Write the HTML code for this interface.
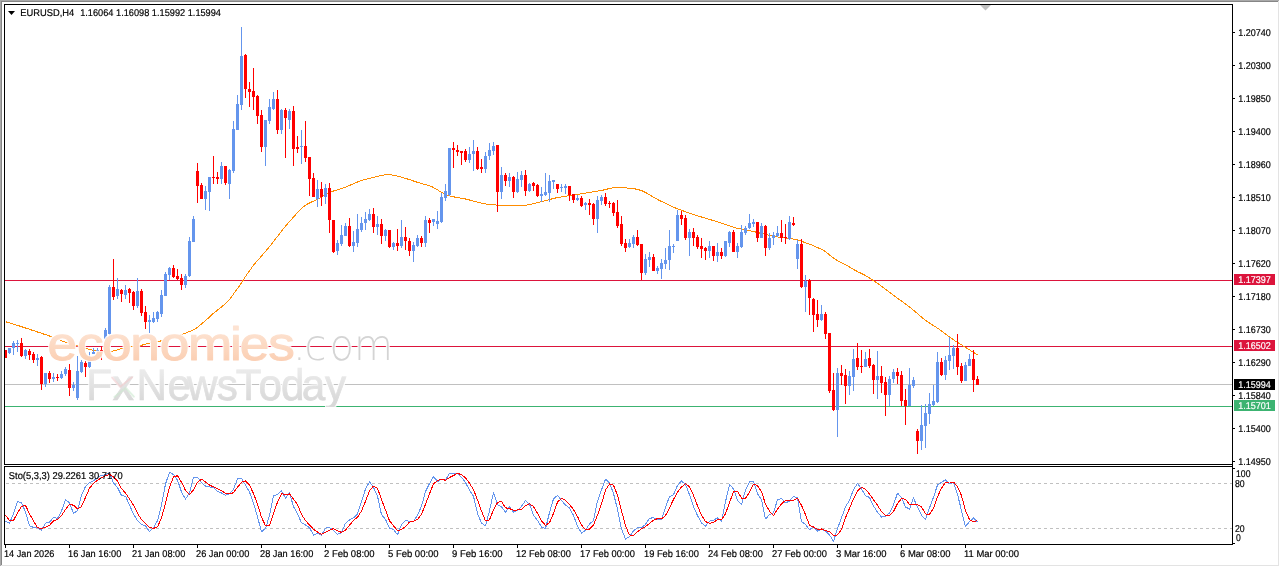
<!DOCTYPE html><html><head><meta charset="utf-8"><title>EURUSD,H4</title>
<style>html,body{margin:0;padding:0;background:#fff;overflow:hidden}svg{display:block}text{font-family:"Liberation Sans",sans-serif;text-rendering:geometricPrecision}</style></head><body>
<svg width="1280" height="567" viewBox="0 0 1280 567">
<rect width="1280" height="567" fill="#fff"/>
<g shape-rendering="crispEdges">
<rect x="0" y="0" width="1279" height="1" fill="#a9a9a9"/><rect x="0" y="0" width="1" height="566" fill="#a9a9a9"/>
<rect x="1" y="1" width="1277" height="1" fill="#868686"/><rect x="1" y="1" width="1" height="564" fill="#868686"/>
<rect x="1278" y="1" width="1" height="565" fill="#e3e3e3"/><rect x="1" y="565" width="1278" height="1" fill="#e3e3e3"/>
</g>
<g shape-rendering="crispEdges">
<rect x="5" y="280" width="1227" height="1" fill="#DC143C"/>
<rect x="5" y="346" width="1227" height="1" fill="#DC143C"/>
<rect x="5" y="384" width="1227" height="1" fill="#C0C0C0"/>
<rect x="5" y="406" width="1227" height="1" fill="#3CB371"/>
</g>
<polyline points="5.5,321.7 7.5,322.3 9.5,322.9 11.5,323.6 13.5,324.2 15.5,324.8 17.5,325.4 19.5,326.0 21.5,326.7 23.5,327.3 25.5,328.0 27.5,328.6 29.5,329.3 31.5,330.0 33.5,330.6 35.5,331.3 37.5,332.0 39.5,332.6 41.5,333.3 43.5,334.0 45.5,334.6 47.5,335.3 49.5,336.0 51.5,336.7 53.5,337.4 55.5,338.2 57.5,339.0 59.5,339.8 61.5,340.7 63.5,341.4 65.5,342.2 67.5,342.8 69.5,343.4 71.5,344.1 73.5,344.7 75.5,345.3 77.5,345.9 79.5,346.5 81.5,347.2 83.5,347.7 85.5,348.3 87.5,348.8 89.5,349.3 91.5,349.8 93.5,350.3 95.5,350.7 97.5,351.0 99.5,351.3 101.5,351.6 103.5,351.8 105.5,351.8 107.5,351.8 109.5,351.6 111.5,351.3 113.5,350.9 115.5,350.4 117.5,349.8 119.5,349.2 121.5,348.6 123.5,348.1 125.5,347.6 127.5,347.2 129.5,346.9 131.5,346.7 133.5,346.4 135.5,346.1 137.5,345.8 139.5,345.5 141.5,345.2 143.5,344.8 145.5,344.2 147.5,343.6 149.5,343.1 151.5,342.6 153.5,342.2 155.5,341.9 157.5,341.5 159.5,341.2 161.5,340.8 163.5,340.2 165.5,339.6 167.5,339.0 169.5,338.3 171.5,337.7 173.5,337.1 175.5,336.4 177.5,335.8 179.5,335.1 181.5,334.5 183.5,333.8 185.5,333.1 187.5,332.3 189.5,331.5 191.5,330.7 193.5,329.7 195.5,328.6 197.5,327.2 199.5,325.6 201.5,324.0 203.5,322.3 205.5,320.6 207.5,318.8 209.5,316.9 211.5,315.0 213.5,313.3 215.5,311.7 217.5,310.1 219.5,308.5 221.5,306.9 223.5,305.2 225.5,303.4 227.5,301.6 229.5,299.4 231.5,296.8 233.5,294.0 235.5,291.1 237.5,288.4 239.5,285.7 241.5,282.9 243.5,279.7 245.5,276.5 247.5,273.6 249.5,270.8 251.5,268.0 253.5,265.3 255.5,262.8 257.5,260.5 259.5,258.3 261.5,256.0 263.5,253.7 265.5,251.4 267.5,249.0 269.5,246.6 271.5,244.2 273.5,241.6 275.5,239.0 277.5,236.4 279.5,233.7 281.5,231.1 283.5,228.7 285.5,226.3 287.5,223.9 289.5,221.6 291.5,219.4 293.5,217.1 295.5,214.8 297.5,212.6 299.5,210.5 301.5,208.5 303.5,206.7 305.5,205.2 307.5,204.0 309.5,203.0 311.5,202.0 313.5,201.1 315.5,200.2 317.5,199.2 319.5,198.1 321.5,197.0 323.5,195.9 325.5,194.7 327.5,193.6 329.5,192.6 331.5,191.7 333.5,191.0 335.5,190.4 337.5,189.8 339.5,189.2 341.5,188.6 343.5,187.9 345.5,187.2 347.5,186.4 349.5,185.5 351.5,184.6 353.5,183.8 355.5,182.9 357.5,182.0 359.5,181.2 361.5,180.5 363.5,179.9 365.5,179.4 367.5,178.9 369.5,178.4 371.5,177.9 373.5,177.4 375.5,176.9 377.5,176.4 379.5,175.9 381.5,175.4 383.5,175.1 385.5,174.9 387.5,174.8 389.5,174.8 391.5,174.9 393.5,175.2 395.5,175.6 397.5,176.2 399.5,176.7 401.5,177.2 403.5,177.8 405.5,178.4 407.5,179.0 409.5,179.6 411.5,180.3 413.5,181.0 415.5,181.7 417.5,182.3 419.5,182.9 421.5,183.5 423.5,184.1 425.5,184.6 427.5,185.2 429.5,185.8 431.5,186.5 433.5,187.5 435.5,188.7 437.5,189.9 439.5,191.2 441.5,192.3 443.5,193.4 445.5,194.3 447.5,195.2 449.5,195.9 451.5,196.4 453.5,196.8 455.5,197.2 457.5,197.5 459.5,197.9 461.5,198.2 463.5,198.6 465.5,199.0 467.5,199.5 469.5,200.0 471.5,200.5 473.5,201.1 475.5,201.6 477.5,202.1 479.5,202.7 481.5,203.2 483.5,203.6 485.5,204.0 487.5,204.2 489.5,204.4 491.5,204.6 493.5,204.8 495.5,205.0 497.5,205.2 499.5,205.4 501.5,205.5 503.5,205.6 505.5,205.5 507.5,205.5 509.5,205.5 511.5,205.5 513.5,205.5 515.5,205.4 517.5,205.4 519.5,205.4 521.5,205.4 523.5,205.3 525.5,205.2 527.5,205.0 529.5,204.6 531.5,204.1 533.5,203.6 535.5,203.1 537.5,202.6 539.5,202.1 541.5,201.6 543.5,201.1 545.5,200.6 547.5,200.1 549.5,199.6 551.5,199.0 553.5,198.5 555.5,198.0 557.5,197.6 559.5,197.2 561.5,196.9 563.5,196.6 565.5,196.2 567.5,195.9 569.5,195.6 571.5,195.3 573.5,195.0 575.5,194.7 577.5,194.4 579.5,194.1 581.5,193.8 583.5,193.5 585.5,193.1 587.5,192.8 589.5,192.4 591.5,192.1 593.5,191.8 595.5,191.4 597.5,191.1 599.5,190.7 601.5,190.4 603.5,190.0 605.5,189.5 607.5,189.0 609.5,188.5 611.5,188.1 613.5,187.9 615.5,187.8 617.5,187.8 619.5,187.8 621.5,187.8 623.5,187.8 625.5,187.9 627.5,188.1 629.5,188.3 631.5,188.5 633.5,188.7 635.5,189.0 637.5,189.4 639.5,190.0 641.5,190.6 643.5,191.5 645.5,192.5 647.5,193.6 649.5,194.8 651.5,196.0 653.5,197.2 655.5,198.3 657.5,199.5 659.5,200.5 661.5,201.5 663.5,202.4 665.5,203.4 667.5,204.3 669.5,205.2 671.5,206.2 673.5,207.1 675.5,208.0 677.5,208.8 679.5,209.6 681.5,210.3 683.5,211.0 685.5,211.7 687.5,212.4 689.5,213.1 691.5,213.8 693.5,214.5 695.5,215.2 697.5,215.8 699.5,216.4 701.5,217.0 703.5,217.6 705.5,218.2 707.5,218.8 709.5,219.4 711.5,220.0 713.5,220.6 715.5,221.2 717.5,221.9 719.5,222.5 721.5,223.2 723.5,223.9 725.5,224.5 727.5,225.2 729.5,225.9 731.5,226.6 733.5,227.2 735.5,227.8 737.5,228.3 739.5,228.7 741.5,229.1 743.5,229.5 745.5,229.9 747.5,230.3 749.5,230.7 751.5,231.2 753.5,231.6 755.5,232.0 757.5,232.5 759.5,233.0 761.5,233.5 763.5,233.9 765.5,234.4 767.5,234.9 769.5,235.4 771.5,235.8 773.5,236.3 775.5,236.6 777.5,236.9 779.5,237.2 781.5,237.5 783.5,237.7 785.5,238.0 787.5,238.3 789.5,238.5 791.5,238.8 793.5,239.1 795.5,239.5 797.5,240.0 799.5,240.6 801.5,241.3 803.5,242.0 805.5,242.7 807.5,243.4 809.5,244.1 811.5,244.9 813.5,245.8 815.5,246.7 817.5,247.6 819.5,248.5 821.5,249.4 823.5,250.4 825.5,251.7 827.5,253.3 829.5,255.0 831.5,256.6 833.5,258.1 835.5,259.4 837.5,260.6 839.5,261.6 841.5,262.7 843.5,263.7 845.5,264.7 847.5,265.8 849.5,267.0 851.5,268.2 853.5,269.4 855.5,270.5 857.5,271.6 859.5,272.6 861.5,273.5 863.5,274.5 865.5,275.6 867.5,276.7 869.5,278.0 871.5,279.3 873.5,280.6 875.5,282.0 877.5,283.4 879.5,284.8 881.5,286.3 883.5,287.8 885.5,289.3 887.5,290.8 889.5,292.3 891.5,293.8 893.5,295.3 895.5,296.7 897.5,298.2 899.5,299.7 901.5,301.1 903.5,302.6 905.5,304.1 907.5,305.5 909.5,307.0 911.5,308.5 913.5,310.2 915.5,311.9 917.5,313.6 919.5,315.3 921.5,317.1 923.5,318.7 925.5,320.3 927.5,321.7 929.5,323.0 931.5,324.3 933.5,325.6 935.5,326.8 937.5,328.1 939.5,329.4 941.5,330.9 943.5,332.4 945.5,334.0 947.5,335.5 949.5,337.0 951.5,338.4 953.5,339.8 955.5,341.1 957.5,342.3 959.5,343.6 961.5,344.9 963.5,346.2 965.5,347.4 967.5,348.7 969.5,349.9 971.5,351.2 973.5,352.4 975.5,353.7 977.5,354.9" fill="none" stroke="#FF8C00" stroke-width="1" stroke-linejoin="round" shape-rendering="crispEdges"/>
<g shape-rendering="crispEdges"><path d="M9 348h1V354h-1zM8 348h3V353h-3zM13 341h1V355h-1zM12 343h3V348h-3zM17 340h1V352h-1zM16 343h3V344h-3zM25 349h1V359h-1zM24 350h3V356h-3zM37 354h1V366h-1zM36 358h3V360h-3zM45 373h1V387h-1zM44 373h3V384h-3zM53 373h1V382h-1zM52 377h3V379h-3zM61 371h1V379h-1zM60 374h3V378h-3zM65 367h1V376h-1zM64 369h3V374h-3zM73 382h1V391h-1zM72 385h3V388h-3zM77 356h1V400h-1zM76 371h3V398h-3zM81 360h1V373h-1zM80 362h3V372h-3zM89 352h1V368h-1zM88 361h3V367h-3zM93 348h1V354h-1zM92 352h3V354h-3zM97 348h1V352h-1zM96 350h3V351h-3zM105 328h1V341h-1zM104 330h3V339h-3zM109 285h1V336h-1zM108 287h3V334h-3zM117 278h1V299h-1zM116 289h3V296h-3zM125 285h1V299h-1zM124 290h3V295h-3zM137 278h1V308h-1zM136 291h3V306h-3zM149 315h1V333h-1zM148 320h3V322h-3zM153 312h1V323h-1zM152 318h3V322h-3zM157 311h1V322h-1zM156 312h3V319h-3zM161 290h1V317h-1zM160 295h3V314h-3zM165 272h1V296h-1zM164 274h3V296h-3zM169 267h1V280h-1zM168 268h3V275h-3zM185 274h1V288h-1zM184 276h3V285h-3zM189 237h1V277h-1zM188 241h3V276h-3zM193 216h1V242h-1zM192 219h3V242h-3zM205 186h1V210h-1zM204 191h3V199h-3zM209 177h1V211h-1zM208 177h3V192h-3zM221 162h1V184h-1zM220 166h3V179h-3zM229 169h1V199h-1zM228 170h3V184h-3zM233 121h1V173h-1zM232 129h3V171h-3zM237 95h1V130h-1zM236 104h3V130h-3zM241 27h1V110h-1zM240 56h3V105h-3zM265 120h1V166h-1zM264 120h3V147h-3zM269 99h1V124h-1zM268 107h3V121h-3zM273 92h1V110h-1zM272 99h3V109h-3zM281 109h1V134h-1zM280 110h3V130h-3zM289 109h1V129h-1zM288 111h3V120h-3zM301 130h1V164h-1zM300 146h3V147h-3zM317 180h1V207h-1zM316 189h3V199h-3zM325 184h1V204h-1zM324 188h3V197h-3zM337 240h1V255h-1zM336 243h3V251h-3zM341 225h1V246h-1zM340 235h3V244h-3zM345 223h1V236h-1zM344 226h3V236h-3zM353 231h1V252h-1zM352 242h3V246h-3zM357 214h1V247h-1zM356 229h3V243h-3zM361 217h1V232h-1zM360 223h3V230h-3zM365 212h1V230h-1zM364 219h3V223h-3zM369 209h1V221h-1zM368 214h3V220h-3zM377 216h1V235h-1zM376 224h3V227h-3zM385 229h1V241h-1zM384 230h3V236h-3zM393 242h1V250h-1zM392 243h3V247h-3zM401 220h1V248h-1zM400 237h3V246h-3zM413 242h1V262h-1zM412 245h3V251h-3zM417 235h1V247h-1zM416 238h3V246h-3zM425 216h1V247h-1zM424 220h3V243h-3zM433 219h1V226h-1zM432 219h3V222h-3zM437 211h1V229h-1zM436 221h3V224h-3zM441 193h1V223h-1zM440 197h3V222h-3zM445 184h1V201h-1zM444 191h3V198h-3zM449 148h1V196h-1zM448 148h3V195h-3zM469 147h1V163h-1zM468 154h3V160h-3zM473 140h1V171h-1zM472 151h3V154h-3zM485 152h1V173h-1zM484 156h3V169h-3zM489 143h1V160h-1zM488 150h3V156h-3zM493 142h1V155h-1zM492 146h3V151h-3zM501 167h1V199h-1zM500 175h3V192h-3zM509 173h1V187h-1zM508 177h3V181h-3zM517 172h1V193h-1zM516 179h3V192h-3zM521 171h1V187h-1zM520 175h3V180h-3zM529 183h1V192h-1zM528 184h3V191h-3zM541 187h1V202h-1zM540 194h3V196h-3zM545 173h1V196h-1zM544 192h3V195h-3zM549 175h1V202h-1zM548 181h3V193h-3zM553 180h1V189h-1zM552 180h3V182h-3zM561 184h1V192h-1zM560 187h3V188h-3zM565 184h1V194h-1zM564 186h3V188h-3zM577 195h1V201h-1zM576 198h3V200h-3zM585 202h1V210h-1zM584 203h3V205h-3zM597 196h1V233h-1zM596 200h3V219h-3zM601 195h1V205h-1zM600 197h3V201h-3zM629 239h1V248h-1zM628 243h3V247h-3zM633 235h1V248h-1zM632 237h3V244h-3zM645 254h1V275h-1zM644 259h3V273h-3zM649 252h1V267h-1zM648 257h3V260h-3zM657 266h1V274h-1zM656 268h3V271h-3zM661 259h1V279h-1zM660 263h3V269h-3zM665 248h1V269h-1zM664 260h3V264h-3zM669 230h1V270h-1zM668 246h3V260h-3zM673 244h1V253h-1zM672 246h3V247h-3zM677 210h1V241h-1zM676 215h3V241h-3zM689 229h1V256h-1zM688 232h3V238h-3zM709 241h1V258h-1zM708 246h3V251h-3zM717 243h1V262h-1zM716 252h3V256h-3zM725 241h1V257h-1zM724 241h3V256h-3zM729 231h1V247h-1zM728 232h3V243h-3zM737 243h1V258h-1zM736 246h3V252h-3zM741 225h1V248h-1zM740 232h3V247h-3zM745 226h1V235h-1zM744 228h3V233h-3zM749 214h1V229h-1zM748 223h3V228h-3zM753 219h1V227h-1zM752 222h3V224h-3zM761 223h1V238h-1zM760 226h3V238h-3zM769 233h1V250h-1zM768 238h3V248h-3zM773 232h1V245h-1zM772 235h3V238h-3zM777 226h1V237h-1zM776 233h3V236h-3zM789 216h1V240h-1zM788 222h3V239h-3zM797 240h1V269h-1zM796 244h3V259h-3zM805 275h1V312h-1zM804 281h3V287h-3zM821 305h1V321h-1zM820 314h3V320h-3zM837 368h1V437h-1zM836 373h3V410h-3zM849 371h1V395h-1zM848 376h3V386h-3zM853 349h1V391h-1zM852 359h3V377h-3zM865 352h1V367h-1zM864 359h3V367h-3zM877 351h1V399h-1zM876 376h3V380h-3zM889 376h1V406h-1zM888 379h3V395h-3zM893 369h1V383h-1zM892 372h3V379h-3zM909 368h1V406h-1zM908 385h3V406h-3zM913 377h1V388h-1zM912 380h3V386h-3zM921 405h1V450h-1zM920 425h3V441h-3zM925 404h1V448h-1zM924 413h3V426h-3zM929 393h1V424h-1zM928 404h3V414h-3zM933 385h1V406h-1zM932 401h3V405h-3zM937 352h1V403h-1zM936 362h3V402h-3zM945 356h1V380h-1zM944 360h3V375h-3zM949 337h1V370h-1zM948 355h3V361h-3zM953 345h1V369h-1zM952 348h3V356h-3zM965 362h1V381h-1zM964 365h3V381h-3zM969 354h1V366h-1zM968 359h3V366h-3z" fill="#6495ED"/><path d="M5 350h1V358h-1zM5 350h2V358h-2zM21 338h1V357h-1zM20 343h3V356h-3zM29 349h1V360h-1zM28 351h3V355h-3zM33 352h1V363h-1zM32 354h3V360h-3zM41 356h1V390h-1zM40 357h3V384h-3zM49 371h1V383h-1zM48 373h3V379h-3zM57 374h1V381h-1zM56 377h3V378h-3zM69 364h1V396h-1zM68 370h3V388h-3zM85 361h1V377h-1zM84 363h3V367h-3zM101 347h1V360h-1zM100 350h3V352h-3zM113 259h1V300h-1zM112 287h3V297h-3zM121 289h1V302h-1zM120 290h3V294h-3zM129 288h1V303h-1zM128 289h3V293h-3zM133 291h1V310h-1zM132 292h3V306h-3zM141 289h1V316h-1zM140 291h3V313h-3zM145 306h1V329h-1zM144 312h3V322h-3zM173 265h1V278h-1zM172 268h3V277h-3zM177 269h1V280h-1zM176 276h3V279h-3zM181 274h1V290h-1zM180 278h3V285h-3zM197 163h1V203h-1zM196 171h3V186h-3zM201 183h1V199h-1zM200 185h3V199h-3zM213 156h1V184h-1zM212 177h3V178h-3zM217 172h1V184h-1zM216 177h3V179h-3zM225 166h1V185h-1zM224 166h3V183h-3zM245 54h1V98h-1zM244 55h3V89h-3zM249 82h1V107h-1zM248 89h3V92h-3zM253 68h1V110h-1zM252 91h3V97h-3zM257 95h1V124h-1zM256 96h3V116h-3zM261 110h1V152h-1zM260 115h3V147h-3zM277 90h1V134h-1zM276 99h3V130h-3zM285 108h1V158h-1zM284 110h3V118h-3zM293 106h1V166h-1zM292 111h3V149h-3zM297 136h1V153h-1zM296 147h3V149h-3zM305 121h1V162h-1zM304 146h3V158h-3zM309 157h1V196h-1zM308 157h3V179h-3zM313 173h1V197h-1zM312 178h3V197h-3zM321 182h1V206h-1zM320 189h3V197h-3zM329 183h1V233h-1zM328 188h3V220h-3zM333 220h1V253h-1zM332 220h3V252h-3zM349 218h1V247h-1zM348 226h3V246h-3zM373 208h1V233h-1zM372 214h3V227h-3zM381 219h1V244h-1zM380 224h3V236h-3zM389 230h1V248h-1zM388 230h3V247h-3zM397 229h1V251h-1zM396 243h3V246h-3zM405 227h1V250h-1zM404 237h3V241h-3zM409 238h1V256h-1zM408 241h3V251h-3zM421 236h1V247h-1zM420 238h3V243h-3zM429 218h1V233h-1zM428 220h3V223h-3zM453 142h1V168h-1zM452 148h3V150h-3zM457 145h1V156h-1zM456 150h3V152h-3zM461 151h1V165h-1zM460 151h3V153h-3zM465 149h1V162h-1zM464 151h3V160h-3zM477 147h1V170h-1zM476 151h3V169h-3zM481 159h1V173h-1zM480 167h3V169h-3zM497 145h1V212h-1zM496 145h3V192h-3zM505 173h1V186h-1zM504 175h3V181h-3zM513 176h1V198h-1zM512 177h3V192h-3zM525 170h1V196h-1zM524 175h3V191h-3zM533 182h1V191h-1zM532 183h3V186h-3zM537 184h1V197h-1zM536 185h3V196h-3zM557 184h1V193h-1zM556 184h3V189h-3zM569 186h1V201h-1zM568 186h3V195h-3zM573 194h1V203h-1zM572 194h3V200h-3zM581 196h1V207h-1zM580 198h3V206h-3zM589 199h1V215h-1zM588 203h3V205h-3zM593 203h1V225h-1zM592 204h3V219h-3zM605 193h1V206h-1zM604 197h3V204h-3zM609 201h1V208h-1zM608 203h3V204h-3zM613 202h1V216h-1zM612 203h3V213h-3zM617 200h1V228h-1zM616 212h3V226h-3zM621 216h1V246h-1zM620 224h3V244h-3zM625 239h1V252h-1zM624 243h3V248h-3zM637 230h1V246h-1zM636 237h3V245h-3zM641 244h1V280h-1zM640 244h3V273h-3zM653 254h1V271h-1zM652 257h3V271h-3zM681 211h1V225h-1zM680 215h3V219h-3zM685 215h1V240h-1zM684 218h3V238h-3zM693 228h1V246h-1zM692 232h3V238h-3zM697 235h1V249h-1zM696 237h3V247h-3zM701 238h1V258h-1zM700 246h3V249h-3zM705 247h1V260h-1zM704 248h3V251h-3zM713 246h1V261h-1zM712 246h3V256h-3zM721 248h1V259h-1zM720 252h3V256h-3zM733 230h1V252h-1zM732 232h3V252h-3zM757 222h1V242h-1zM756 222h3V238h-3zM765 225h1V256h-1zM764 226h3V248h-3zM781 220h1V242h-1zM780 233h3V238h-3zM785 224h1V244h-1zM784 237h3V238h-3zM793 217h1V226h-1zM792 223h3V225h-3zM801 239h1V288h-1zM800 244h3V287h-3zM809 279h1V315h-1zM808 280h3V298h-3zM813 298h1V332h-1zM812 299h3V315h-3zM817 300h1V327h-1zM816 314h3V320h-3zM825 312h1V339h-1zM824 314h3V334h-3zM829 333h1V393h-1zM828 333h3V391h-3zM833 373h1V411h-1zM832 390h3V410h-3zM841 365h1V385h-1zM840 373h3V376h-3zM845 369h1V404h-1zM844 375h3V386h-3zM857 343h1V370h-1zM856 358h3V367h-3zM861 350h1V373h-1zM860 366h3V367h-3zM869 349h1V368h-1zM868 358h3V366h-3zM873 364h1V394h-1zM872 365h3V380h-3zM881 366h1V393h-1zM880 376h3V383h-3zM885 377h1V416h-1zM884 382h3V395h-3zM897 368h1V384h-1zM896 372h3V376h-3zM901 371h1V406h-1zM900 375h3V401h-3zM905 389h1V425h-1zM904 400h3V406h-3zM917 429h1V454h-1zM916 431h3V441h-3zM941 358h1V376h-1zM940 362h3V375h-3zM957 334h1V375h-1zM956 348h3V367h-3zM961 363h1V383h-1zM960 366h3V381h-3zM973 350h1V392h-1zM972 359h3V380h-3zM977 376h1V385h-1zM976 379h3V385h-3z" fill="#FF0000"/></g>
<g shape-rendering="crispEdges">
<line x1="6" y1="483.5" x2="1232" y2="483.5" stroke="#C0C0C0" stroke-width="1" stroke-dasharray="3,3"/>
<line x1="6" y1="528.5" x2="1232" y2="528.5" stroke="#C0C0C0" stroke-width="1" stroke-dasharray="3,3"/>
</g>
<polyline points="5.5,521.3 9.5,523.1 13.5,513.8 17.5,501.5 21.5,502.8 25.5,512.0 29.5,525.7 33.5,527.5 37.5,527.9 41.5,530.3 45.5,523.2 49.5,522.3 53.5,517.4 57.5,518.5 61.5,511.0 65.5,499.5 69.5,502.9 73.5,513.3 77.5,510.6 81.5,495.4 85.5,486.5 89.5,482.6 93.5,480.7 97.5,477.4 101.5,475.4 105.5,474.8 109.5,472.7 113.5,482.9 117.5,487.4 121.5,495.5 125.5,496.2 129.5,505.2 133.5,514.0 137.5,520.6 141.5,524.6 145.5,525.7 149.5,531.8 153.5,527.8 157.5,520.7 161.5,505.2 165.5,484.0 169.5,472.3 173.5,474.6 177.5,480.1 181.5,492.0 185.5,499.2 189.5,492.6 193.5,477.6 197.5,477.2 201.5,482.4 205.5,486.1 209.5,486.8 213.5,487.8 217.5,491.5 221.5,493.0 225.5,495.4 229.5,493.5 233.5,489.3 237.5,479.0 241.5,478.3 245.5,485.2 249.5,492.2 253.5,503.3 257.5,516.8 261.5,531.8 265.5,528.5 269.5,515.7 273.5,496.0 277.5,494.5 281.5,490.7 285.5,498.2 289.5,492.9 293.5,506.5 297.5,513.6 301.5,522.9 305.5,524.9 309.5,527.6 313.5,535.1 317.5,533.3 321.5,535.2 325.5,528.1 329.5,527.6 333.5,530.2 337.5,534.3 341.5,532.7 345.5,523.2 349.5,519.9 353.5,517.8 357.5,513.9 361.5,501.2 365.5,489.1 369.5,481.8 373.5,487.4 377.5,496.1 381.5,514.7 385.5,519.3 389.5,528.4 393.5,529.5 397.5,534.8 401.5,524.4 405.5,520.4 409.5,521.4 413.5,521.6 417.5,515.3 421.5,506.0 425.5,491.6 429.5,483.6 433.5,476.6 437.5,481.5 441.5,479.3 445.5,480.1 449.5,473.1 453.5,473.4 457.5,473.4 461.5,477.2 465.5,482.6 469.5,490.0 473.5,496.3 477.5,513.5 481.5,523.1 485.5,525.9 489.5,510.7 493.5,492.4 497.5,504.6 501.5,506.9 505.5,512.0 509.5,506.9 513.5,512.2 517.5,510.5 521.5,506.3 525.5,500.6 529.5,504.1 533.5,515.0 537.5,520.4 541.5,527.0 545.5,528.5 549.5,512.5 553.5,498.9 557.5,495.3 561.5,500.6 565.5,505.1 569.5,508.0 573.5,515.4 577.5,526.1 581.5,533.2 585.5,530.4 589.5,523.9 593.5,520.6 597.5,501.1 601.5,489.8 605.5,479.2 609.5,482.8 613.5,493.5 617.5,509.3 621.5,529.1 625.5,539.1 629.5,536.7 633.5,530.8 637.5,527.6 641.5,527.9 645.5,524.3 649.5,518.5 653.5,517.5 657.5,519.8 661.5,519.6 665.5,507.2 669.5,496.6 673.5,494.7 677.5,485.4 681.5,480.9 685.5,484.6 689.5,494.7 693.5,506.8 697.5,515.5 701.5,522.9 705.5,526.2 709.5,521.1 713.5,520.2 717.5,517.9 721.5,521.4 725.5,501.8 729.5,484.6 733.5,488.9 737.5,500.5 741.5,504.8 745.5,489.7 749.5,481.8 753.5,481.2 757.5,493.7 761.5,499.8 765.5,519.0 769.5,514.7 773.5,512.8 777.5,499.7 781.5,498.5 785.5,502.9 789.5,501.1 793.5,496.2 797.5,497.9 801.5,521.5 805.5,524.6 809.5,529.8 813.5,526.6 817.5,531.2 821.5,529.1 825.5,531.2 829.5,534.9 833.5,541.2 837.5,528.7 841.5,517.8 845.5,506.8 849.5,500.2 853.5,489.5 857.5,483.6 861.5,488.8 865.5,495.7 869.5,497.5 873.5,506.0 877.5,512.2 881.5,517.1 885.5,516.5 889.5,512.9 893.5,504.8 897.5,493.1 901.5,497.6 905.5,507.0 909.5,509.1 913.5,498.0 917.5,507.0 921.5,515.3 925.5,519.7 929.5,507.8 933.5,497.3 937.5,485.0 941.5,482.3 945.5,479.9 949.5,483.9 953.5,482.1 957.5,494.2 961.5,510.7 965.5,526.5 969.5,521.6 973.5,518.0 977.5,521.9" fill="none" stroke="#6495ED" stroke-width="1" stroke-linejoin="round" shape-rendering="crispEdges"/>
<polyline points="5.5,515.1 9.5,520.4 13.5,520.4 17.5,512.9 21.5,506.3 25.5,505.4 29.5,513.8 33.5,520.9 37.5,527.5 41.5,528.8 45.5,527.1 49.5,525.3 53.5,521.0 57.5,519.4 61.5,515.6 65.5,509.6 69.5,504.4 73.5,505.2 77.5,509.0 81.5,506.5 85.5,497.5 89.5,488.2 93.5,483.3 97.5,480.3 101.5,477.9 105.5,475.9 109.5,474.3 113.5,476.8 117.5,481.0 121.5,488.6 125.5,493.0 129.5,499.0 133.5,505.2 137.5,513.3 141.5,519.7 145.5,523.6 149.5,527.4 153.5,528.4 157.5,526.8 161.5,517.9 165.5,503.3 169.5,487.2 173.5,477.0 177.5,475.7 181.5,482.3 185.5,490.4 189.5,494.6 193.5,489.8 197.5,482.4 201.5,479.1 205.5,481.9 209.5,485.1 213.5,486.9 217.5,488.7 221.5,490.8 225.5,493.3 229.5,494.0 233.5,492.7 237.5,487.3 241.5,482.2 245.5,480.8 249.5,485.2 253.5,493.6 257.5,504.1 261.5,517.3 265.5,525.7 269.5,525.3 273.5,513.4 277.5,502.1 281.5,493.7 285.5,494.5 289.5,493.9 293.5,499.2 297.5,504.4 301.5,514.4 305.5,520.5 309.5,525.1 313.5,529.2 317.5,532.0 321.5,534.5 325.5,532.2 329.5,530.3 333.5,528.6 337.5,530.7 341.5,532.4 345.5,530.0 349.5,525.3 353.5,520.3 357.5,517.2 361.5,511.0 365.5,501.4 369.5,490.7 373.5,486.1 377.5,488.4 381.5,499.4 385.5,510.0 389.5,520.8 393.5,525.7 397.5,530.9 401.5,529.5 405.5,526.5 409.5,522.1 413.5,521.1 417.5,519.4 421.5,514.3 425.5,504.3 429.5,493.7 433.5,484.0 437.5,480.6 441.5,479.1 445.5,480.3 449.5,477.5 453.5,475.5 457.5,473.3 461.5,474.7 465.5,477.7 469.5,483.3 473.5,489.6 477.5,499.9 481.5,511.0 485.5,520.9 489.5,519.9 493.5,509.7 497.5,502.6 501.5,501.3 505.5,507.8 509.5,508.6 513.5,510.4 517.5,509.9 521.5,509.7 525.5,505.8 529.5,503.7 533.5,506.6 537.5,513.2 541.5,520.8 545.5,525.3 549.5,522.7 553.5,513.3 557.5,502.2 561.5,498.3 565.5,500.3 569.5,504.6 573.5,509.5 577.5,516.5 581.5,524.9 585.5,529.9 589.5,529.1 593.5,525.0 597.5,515.2 601.5,503.9 605.5,490.1 609.5,484.0 613.5,485.2 617.5,495.2 621.5,510.6 625.5,525.9 629.5,535.0 633.5,535.5 637.5,531.7 641.5,528.8 645.5,526.6 649.5,523.6 653.5,520.1 657.5,518.6 661.5,519.0 665.5,515.6 669.5,507.8 673.5,499.5 677.5,492.2 681.5,487.0 685.5,483.7 689.5,486.8 693.5,495.4 697.5,505.7 701.5,515.1 705.5,521.5 709.5,523.4 713.5,522.5 717.5,519.7 721.5,519.8 725.5,513.7 729.5,502.6 733.5,491.8 737.5,491.3 741.5,498.1 745.5,498.3 749.5,492.1 753.5,484.2 757.5,485.6 761.5,491.6 765.5,504.2 769.5,511.2 773.5,515.5 777.5,509.1 781.5,503.7 785.5,500.4 789.5,500.8 793.5,500.1 797.5,498.4 801.5,505.2 805.5,514.7 809.5,525.3 813.5,527.0 817.5,529.2 821.5,529.0 825.5,530.5 829.5,531.7 833.5,535.8 837.5,534.9 841.5,529.3 845.5,517.8 849.5,508.3 853.5,498.8 857.5,491.1 861.5,487.3 865.5,489.4 869.5,494.0 873.5,499.7 877.5,505.2 881.5,511.8 885.5,515.3 889.5,515.5 893.5,511.4 897.5,503.6 901.5,498.5 905.5,499.2 909.5,504.5 913.5,504.7 917.5,504.7 921.5,506.7 925.5,514.0 929.5,514.3 933.5,508.3 937.5,496.7 941.5,488.2 945.5,482.4 949.5,482.0 953.5,482.0 957.5,486.7 961.5,495.7 965.5,510.5 969.5,519.6 973.5,522.0 977.5,520.5" fill="none" stroke="#FF0000" stroke-width="1" stroke-linejoin="round" shape-rendering="crispEdges"/>
<g id="wm">
<defs><filter id="halo" x="-5%" y="-20%" width="110%" height="140%"><feMorphology in="SourceAlpha" operator="dilate" radius="1.2" result="d"/><feGaussianBlur in="d" stdDeviation="0.6" result="b"/><feFlood flood-color="#fff" flood-opacity="0.9"/><feComposite in2="b" operator="in" result="h"/><feMerge><feMergeNode in="h"/><feMergeNode in="SourceGraphic"/></feMerge></filter><linearGradient id="xg" x1="0" y1="0" x2="0" y2="1"><stop offset="0" stop-color="#F3D6D6"/><stop offset="0.52" stop-color="#EBD2D2"/><stop offset="0.62" stop-color="#CFE6D2"/><stop offset="1" stop-color="#D6EBD8"/></linearGradient><linearGradient id="eg" gradientUnits="userSpaceOnUse" x1="0" y1="330" x2="0" y2="361"><stop offset="0" stop-color="#FDE3D2"/><stop offset="1" stop-color="#FBCFB3"/></linearGradient><linearGradient id="gg" gradientUnits="userSpaceOnUse" x1="0" y1="370" x2="0" y2="402"><stop offset="0" stop-color="#EBEBEB"/><stop offset="1" stop-color="#D8D8D8"/></linearGradient><clipPath id="cp"><rect x="0" y="300" width="600" height="107"/></clipPath></defs>
<g transform="scale(1.13,1)" filter="url(#halo)"><text x="42.11 68.09 90.16 115.30 141.31 166.47 203.55 212.24 237.34" y="360.3" font-size="47" fill="url(#eg)" stroke="url(#eg)" stroke-width="1.0" stroke-linejoin="round" stroke-linecap="round">economies</text></g>
<g transform="scale(0.93,1)" filter="url(#halo)"><text x="315.17 327.56 354.33 380.52" y="360" font-size="43" font-weight="200" style="font-family:'DejaVu Sans Light','DejaVu Sans','Liberation Sans',sans-serif" fill="#D4D4D4">.com</text></g>
<g transform="scale(0.96,1)" filter="url(#halo)" clip-path="url(#cp)"><text x="89.80 117.37 142.17 174.42 194.87 225.85 245.58 269.17 292.69 314.43 338.47" y="399.9" font-size="44" fill="url(#gg)" stroke="url(#gg)" stroke-width="0.7">FxNewsToday</text></g>
<path d="M112.2 377.6L120.2 386.8L132 377.2" fill="none" stroke="#F0C9CC" stroke-width="2" stroke-linecap="round" stroke-linejoin="round" opacity="0.6"/>
<path d="M114.4 397L125.8 388L133.9 396.6" fill="none" stroke="#CDE9D1" stroke-width="2" stroke-linecap="round" stroke-linejoin="round" opacity="0.6"/>
</g>

<g shape-rendering="crispEdges" fill="#000">
<rect x="4" y="4" width="1229" height="1"/>
<rect x="4" y="4" width="1" height="461"/>
<rect x="1232" y="4" width="1" height="541"/>
<rect x="4" y="464" width="1229" height="1"/>
<rect x="4" y="466" width="1229" height="1"/>
<rect x="4" y="466" width="1" height="79"/>
<rect x="4" y="544" width="1229" height="1"/>
<rect x="1233" y="32" width="2" height="1"/>
<rect x="1233" y="65" width="2" height="1"/>
<rect x="1233" y="98" width="2" height="1"/>
<rect x="1233" y="131" width="2" height="1"/>
<rect x="1233" y="164" width="2" height="1"/>
<rect x="1233" y="197" width="2" height="1"/>
<rect x="1233" y="230" width="2" height="1"/>
<rect x="1233" y="263" width="2" height="1"/>
<rect x="1233" y="296" width="2" height="1"/>
<rect x="1233" y="329" width="2" height="1"/>
<rect x="1233" y="362" width="2" height="1"/>
<rect x="1233" y="395" width="2" height="1"/>
<rect x="1233" y="428" width="2" height="1"/>
<rect x="1233" y="461" width="2" height="1"/>
<rect x="1233" y="468" width="2" height="1"/>
<rect x="1233" y="543" width="2" height="1"/>
<rect x="5" y="545" width="1" height="3"/>
<rect x="69" y="545" width="1" height="3"/>
<rect x="133" y="545" width="1" height="3"/>
<rect x="197" y="545" width="1" height="3"/>
<rect x="261" y="545" width="1" height="3"/>
<rect x="325" y="545" width="1" height="3"/>
<rect x="389" y="545" width="1" height="3"/>
<rect x="453" y="545" width="1" height="3"/>
<rect x="517" y="545" width="1" height="3"/>
<rect x="581" y="545" width="1" height="3"/>
<rect x="645" y="545" width="1" height="3"/>
<rect x="709" y="545" width="1" height="3"/>
<rect x="773" y="545" width="1" height="3"/>
<rect x="837" y="545" width="1" height="3"/>
<rect x="901" y="545" width="1" height="3"/>
<rect x="965" y="545" width="1" height="3"/>
</g>
<text x="1238.2" y="36.05" font-size="9.85" fill="#000" stroke="#000" stroke-width="0.18" textLength="32.6" lengthAdjust="spacingAndGlyphs">1.20740</text>
<text x="1238.2" y="69.05" font-size="9.85" fill="#000" stroke="#000" stroke-width="0.18" textLength="32.6" lengthAdjust="spacingAndGlyphs">1.20300</text>
<text x="1238.2" y="102.05" font-size="9.85" fill="#000" stroke="#000" stroke-width="0.18" textLength="32.6" lengthAdjust="spacingAndGlyphs">1.19850</text>
<text x="1238.2" y="135.05" font-size="9.85" fill="#000" stroke="#000" stroke-width="0.18" textLength="32.6" lengthAdjust="spacingAndGlyphs">1.19400</text>
<text x="1238.2" y="168.05" font-size="9.85" fill="#000" stroke="#000" stroke-width="0.18" textLength="32.6" lengthAdjust="spacingAndGlyphs">1.18960</text>
<text x="1238.2" y="201.05" font-size="9.85" fill="#000" stroke="#000" stroke-width="0.18" textLength="32.6" lengthAdjust="spacingAndGlyphs">1.18510</text>
<text x="1238.2" y="234.05" font-size="9.85" fill="#000" stroke="#000" stroke-width="0.18" textLength="32.6" lengthAdjust="spacingAndGlyphs">1.18070</text>
<text x="1238.2" y="267.05" font-size="9.85" fill="#000" stroke="#000" stroke-width="0.18" textLength="32.6" lengthAdjust="spacingAndGlyphs">1.17620</text>
<text x="1238.2" y="300.05" font-size="9.85" fill="#000" stroke="#000" stroke-width="0.18" textLength="32.6" lengthAdjust="spacingAndGlyphs">1.17180</text>
<text x="1238.2" y="333.05" font-size="9.85" fill="#000" stroke="#000" stroke-width="0.18" textLength="32.6" lengthAdjust="spacingAndGlyphs">1.16730</text>
<text x="1238.2" y="366.05" font-size="9.85" fill="#000" stroke="#000" stroke-width="0.18" textLength="32.6" lengthAdjust="spacingAndGlyphs">1.16290</text>
<text x="1238.2" y="399.05" font-size="9.85" fill="#000" stroke="#000" stroke-width="0.18" textLength="32.6" lengthAdjust="spacingAndGlyphs">1.15840</text>
<text x="1238.2" y="432.05" font-size="9.85" fill="#000" stroke="#000" stroke-width="0.18" textLength="32.6" lengthAdjust="spacingAndGlyphs">1.15400</text>
<text x="1238.2" y="465.05" font-size="9.85" fill="#000" stroke="#000" stroke-width="0.18" textLength="32.6" lengthAdjust="spacingAndGlyphs">1.14950</text>
<rect x="1234" y="274" width="41" height="11" fill="#DC143C" shape-rendering="crispEdges"/>
<text x="1238.2" y="283.05" font-size="9.85" fill="#fff" stroke="#fff" stroke-width="0.18" textLength="32.6" lengthAdjust="spacingAndGlyphs">1.17397</text>
<rect x="1234" y="340" width="41" height="11" fill="#DC143C" shape-rendering="crispEdges"/>
<text x="1238.2" y="349.05" font-size="9.85" fill="#fff" stroke="#fff" stroke-width="0.18" textLength="32.6" lengthAdjust="spacingAndGlyphs">1.16502</text>
<rect x="1234" y="400" width="41" height="11" fill="#3CB371" shape-rendering="crispEdges"/>
<text x="1238.2" y="409.05" font-size="9.85" fill="#fff" stroke="#fff" stroke-width="0.18" textLength="32.6" lengthAdjust="spacingAndGlyphs">1.15701</text>
<rect x="1234" y="379" width="41" height="11" fill="#000" shape-rendering="crispEdges"/>
<text x="1238.2" y="388.05" font-size="9.85" fill="#fff" stroke="#fff" stroke-width="0.18" textLength="32.6" lengthAdjust="spacingAndGlyphs">1.15994</text>
<text x="1236" y="477" font-size="9.85" fill="#000" stroke="#000" stroke-width="0.18" textLength="14.5" lengthAdjust="spacingAndGlyphs">100</text>
<text x="1235" y="487" font-size="9.85" fill="#000" stroke="#000" stroke-width="0.18" textLength="9.7" lengthAdjust="spacingAndGlyphs">80</text>
<text x="1235" y="532" font-size="9.85" fill="#000" stroke="#000" stroke-width="0.18" textLength="9.7" lengthAdjust="spacingAndGlyphs">20</text>
<text x="1236" y="541" font-size="9.85" fill="#000" stroke="#000" stroke-width="0.18" textLength="4.8" lengthAdjust="spacingAndGlyphs">0</text>
<path d="M8 11h7l-3.5 4z" fill="#000"/>
<text x="20.2" y="16" font-size="9.85" fill="#000" stroke="#000" stroke-width="0.18" textLength="54" lengthAdjust="spacingAndGlyphs">EURUSD,H4</text>
<text x="80.2" y="16" font-size="9.85" fill="#000" stroke="#000" stroke-width="0.18" textLength="140.8" lengthAdjust="spacingAndGlyphs">1.16064 1.16098 1.15992 1.15994</text>
<path d="M980 5h11l-5.5 5.5z" fill="#C0C0C0"/>
<text x="8.8" y="479" font-size="9.85" fill="#000" stroke="#000" stroke-width="0.18" textLength="113.8" lengthAdjust="spacingAndGlyphs">Sto(5,3,3) 29.2261 30.7170</text>
<text x="4" y="557.05" font-size="9.85" fill="#000" stroke="#000" stroke-width="0.18" textLength="50.4" lengthAdjust="spacingAndGlyphs">14 Jan 2026</text>
<text x="68" y="557.05" font-size="9.85" fill="#000" stroke="#000" stroke-width="0.18" textLength="53.4" lengthAdjust="spacingAndGlyphs">16 Jan 16:00</text>
<text x="132" y="557.05" font-size="9.85" fill="#000" stroke="#000" stroke-width="0.18" textLength="53.4" lengthAdjust="spacingAndGlyphs">21 Jan 08:00</text>
<text x="196" y="557.05" font-size="9.85" fill="#000" stroke="#000" stroke-width="0.18" textLength="53.4" lengthAdjust="spacingAndGlyphs">26 Jan 00:00</text>
<text x="260" y="557.05" font-size="9.85" fill="#000" stroke="#000" stroke-width="0.18" textLength="53.4" lengthAdjust="spacingAndGlyphs">28 Jan 16:00</text>
<text x="324" y="557.05" font-size="9.85" fill="#000" stroke="#000" stroke-width="0.18" textLength="50.6" lengthAdjust="spacingAndGlyphs">2 Feb 08:00</text>
<text x="388" y="557.05" font-size="9.85" fill="#000" stroke="#000" stroke-width="0.18" textLength="50.6" lengthAdjust="spacingAndGlyphs">5 Feb 00:00</text>
<text x="452" y="557.05" font-size="9.85" fill="#000" stroke="#000" stroke-width="0.18" textLength="50.6" lengthAdjust="spacingAndGlyphs">9 Feb 16:00</text>
<text x="516" y="557.05" font-size="9.85" fill="#000" stroke="#000" stroke-width="0.18" textLength="54.8" lengthAdjust="spacingAndGlyphs">12 Feb 08:00</text>
<text x="580" y="557.05" font-size="9.85" fill="#000" stroke="#000" stroke-width="0.18" textLength="54.8" lengthAdjust="spacingAndGlyphs">17 Feb 00:00</text>
<text x="644" y="557.05" font-size="9.85" fill="#000" stroke="#000" stroke-width="0.18" textLength="54.8" lengthAdjust="spacingAndGlyphs">19 Feb 16:00</text>
<text x="708" y="557.05" font-size="9.85" fill="#000" stroke="#000" stroke-width="0.18" textLength="54.8" lengthAdjust="spacingAndGlyphs">24 Feb 08:00</text>
<text x="772" y="557.05" font-size="9.85" fill="#000" stroke="#000" stroke-width="0.18" textLength="54.8" lengthAdjust="spacingAndGlyphs">27 Feb 00:00</text>
<text x="836" y="557.05" font-size="9.85" fill="#000" stroke="#000" stroke-width="0.18" textLength="50.4" lengthAdjust="spacingAndGlyphs">3 Mar 16:00</text>
<text x="900" y="557.05" font-size="9.85" fill="#000" stroke="#000" stroke-width="0.18" textLength="50.4" lengthAdjust="spacingAndGlyphs">6 Mar 08:00</text>
<text x="964" y="557.05" font-size="9.85" fill="#000" stroke="#000" stroke-width="0.18" textLength="55.0" lengthAdjust="spacingAndGlyphs">11 Mar 00:00</text>
</svg></body></html>
